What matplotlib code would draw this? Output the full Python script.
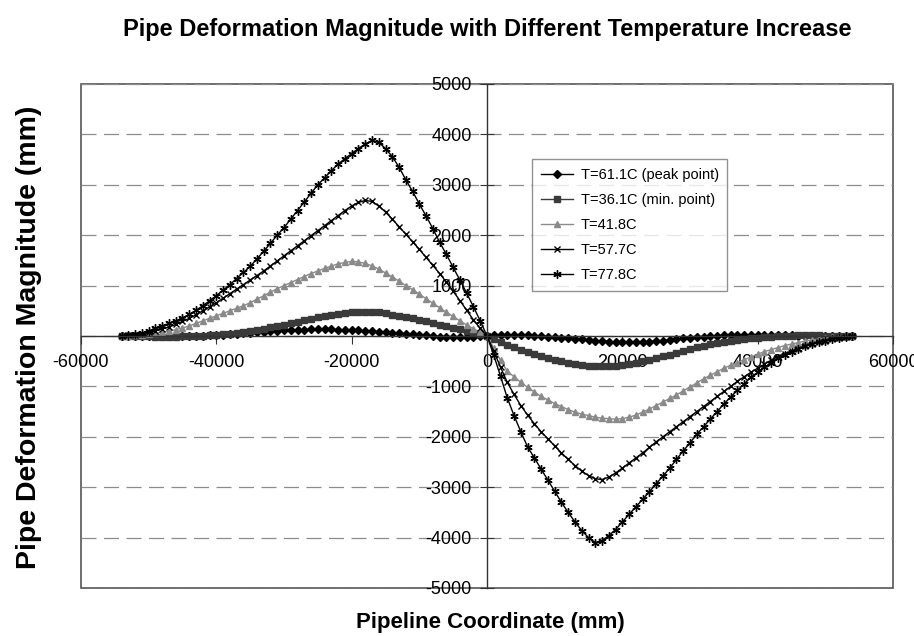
import numpy as np
import matplotlib
matplotlib.use('Agg')
import matplotlib.pyplot as plt
from matplotlib.patches import Rectangle

plt.rcParams['font.family'] = ['Liberation Sans', 'DejaVu Sans']

#pipe coordinate (mm), one point every 1000 mm
x_mm = np.arange(-54000, 54001, 1000)

#deformation readings (mm), rows of 10 from x=-54000
t611 = [0, 0, 0, 0, 0, 0, 0, 0, 0, 0,
        0, 0, 5, 10, 15, 20, 30, 40, 50, 60,
        70, 80, 90, 100, 110, 115, 120, 125, 130, 130,
        130, 130, 125, 120, 115, 110, 100, 90, 80, 70,
        60, 50, 40, 30, 20, 10, 0, -10, -15, -20,
        -20, -15, -10, -5, 0, 10, 20, 25, 25, 20,
        15, 5, 0, -10, -20, -30, -40, -50, -60, -75,
        -90, -100, -110, -115, -120, -120, -120, -115, -110, -100,
        -90, -75, -60, -45, -30, -20, -10, 0, 5, 10,
        15, 20, 20, 20, 20, 20, 15, 15, 10, 10,
        5, 5, 0, 0, 0, 0, 0, 0, 0]

t361 = [0, 0, 0, -5, -5, -10, -10, -10, -10, -5,
        0, 0, 5, 10, 20, 30, 45, 60, 80, 100,
        120, 145, 170, 195, 220, 250, 280, 310, 340, 370,
        395, 420, 440, 455, 470, 480, 485, 480, 470, 450,
        425, 400, 375, 350, 320, 290, 260, 225, 195, 160,
        130, 95, 65, 30, 0, -60, -115, -170, -225, -275,
        -320, -365, -405, -440, -470, -500, -530, -555, -575, -590,
        -600, -605, -600, -590, -575, -555, -530, -500, -470, -440,
        -405, -370, -330, -290, -250, -220, -190, -160, -135, -110,
        -90, -70, -55, -40, -30, -20, -10, -5, 0, 5,
        10, 10, 10, 10, 5, 5, 0, 0, 0]

t418 = [0, 5, 15, 25, 40, 55, 75, 95, 125, 160,
        200, 250, 300, 350, 400, 450, 500, 550, 600, 660,
        730, 800, 870, 940, 1000, 1060, 1120, 1180, 1240, 1290,
        1340, 1390, 1430, 1460, 1480, 1470, 1440, 1390, 1330, 1250,
        1170, 1090, 1000, 920, 830, 740, 650, 560, 470, 390,
        300, 220, 140, 70, 0, -240, -480, -700, -810, -920,
        -1020, -1110, -1200, -1270, -1340, -1400, -1460, -1510, -1550, -1580,
        -1610, -1630, -1640, -1650, -1640, -1610, -1570, -1510, -1450, -1380,
        -1310, -1240, -1170, -1090, -1010, -930, -850, -780, -710, -640,
        -580, -530, -470, -420, -360, -310, -270, -230, -190, -160,
        -130, -100, -80, -60, -40, -25, -15, -5, 0]

t577 = [0, 10, 25, 45, 70, 100, 140, 180, 230, 290,
        350, 420, 500, 580, 660, 750, 840, 930, 1020, 1110,
        1200, 1290, 1390, 1490, 1590, 1690, 1790, 1890, 1990, 2090,
        2190, 2290, 2390, 2490, 2580, 2650, 2690, 2670, 2580, 2460,
        2320, 2170, 2020, 1870, 1720, 1560, 1400, 1240, 1070, 890,
        700, 510, 320, 150, 0, -300, -620, -920, -1160, -1380,
        -1570, -1740, -1900, -2040, -2180, -2320, -2450, -2570, -2680, -2770,
        -2830, -2850, -2800, -2720, -2620, -2520, -2420, -2320, -2210, -2100,
        -2000, -1900, -1800, -1700, -1600, -1500, -1400, -1300, -1200, -1100,
        -1000, -900, -810, -720, -640, -560, -480, -410, -350, -300,
        -250, -200, -160, -120, -90, -60, -40, -20, 0]

t778 = [0, 10, 30, 60, 100, 150, 200, 250, 300, 360,
        430, 510, 600, 700, 800, 910, 1020, 1140, 1260, 1380,
        1530, 1680, 1840, 2000, 2150, 2320, 2490, 2660, 2830, 3000,
        3140, 3280, 3410, 3520, 3620, 3720, 3810, 3880, 3840, 3720,
        3560, 3350, 3100, 2870, 2620, 2380, 2130, 1860, 1620, 1360,
        1110, 850, 580, 300, 0, -380, -800, -1230, -1580, -1900,
        -2200, -2420, -2640, -2860, -3080, -3300, -3500, -3690, -3860, -4000,
        -4100, -4060, -3960, -3840, -3690, -3540, -3390, -3240, -3090, -2930,
        -2780, -2620, -2450, -2280, -2120, -1950, -1800, -1650, -1500, -1350,
        -1210, -1080, -950, -820, -720, -620, -530, -440, -370, -310,
        -250, -200, -160, -120, -90, -65, -45, -25, 0]

labels = ['T=61.1C (peak point)', 'T=36.1C (min. point)', 'T=41.8C', 'T=57.7C', 'T=77.8C']
series = [t611, t361, t418, t577, t778]
markers = ['D', 's', '^', 'x', (6, 2, 0)]
colors = ['black', '#3a3a3a', '#8a8a8a', 'black', 'black']
msizes = [4.5, 4.5, 5, 5, 6]

fig = plt.figure(figsize=(9.14, 6.36), dpi=100)
ax = fig.add_axes([81/914, 1-588/636, 812/914, 504/636])

for ys, lab, m, c, ms in zip(series, labels, markers, colors, msizes):
    assert len(ys) == len(x_mm)
    ax.plot(x_mm, ys, color=c, lw=1, marker=m, ms=ms, mew=1.0,
            mfc=c, mec=c, label=lab)

ax.set_xlim(-60000, 60000)
ax.set_ylim(-5000, 5000)

#axes crossing at the origin like the excel chart
ax.spines['left'].set_position('zero')
ax.spines['bottom'].set_position('zero')
ax.spines['top'].set_visible(False)
ax.spines['right'].set_visible(False)
for s in ['left', 'bottom']:
    ax.spines[s].set_color('#333333')
    ax.spines[s].set_linewidth(1)

ax.add_patch(Rectangle((0, 0), 1, 1, transform=ax.transAxes, fill=False,
                       edgecolor='#555555', lw=1.2, clip_on=False, zorder=0))

ax.set_xticks(np.arange(-60000, 60001, 20000))
ax.set_xticklabels(['-60000', '-40000', '-20000', '0', '20000', '40000', '60000'])
yt = np.arange(-5000, 5001, 1000)
ax.set_yticks(yt)
ax.set_yticklabels([str(v) if v != 0 else '' for v in yt])
ax.tick_params(axis='x', direction='out', length=6, labelsize=13, pad=7, color='#333333')
ax.tick_params(axis='y', direction='inout', length=10, labelsize=13, pad=6, color='#333333')

ax.yaxis.grid(True, color='#8c8c8c', lw=0.9, linestyle=(0, (12, 6)))
ax.set_axisbelow(True)

leg = ax.legend(loc='upper left', bbox_to_anchor=(0.547, 0.865), fontsize=10.5,
                frameon=True, fancybox=False, edgecolor='#777777',
                handlelength=2.2, handletextpad=0.5, labelspacing=0.75, borderpad=0.6)
leg.get_frame().set_linewidth(1)

fig.text(0.533, 0.954, 'Pipe Deformation Magnitude with Different Temperature Increase',
         ha='center', va='center', fontsize=17, fontweight='bold')
fig.text(0.032, 0.47, 'Pipe Deformation Magnitude (mm)', ha='center', va='center',
         rotation=90, fontsize=20.5, fontweight='bold')
fig.text(0.536, 0.021, 'Pipeline Coordinate (mm)', ha='center', va='center',
         fontsize=16, fontweight='bold')

fig.savefig('out.png', dpi=100)
